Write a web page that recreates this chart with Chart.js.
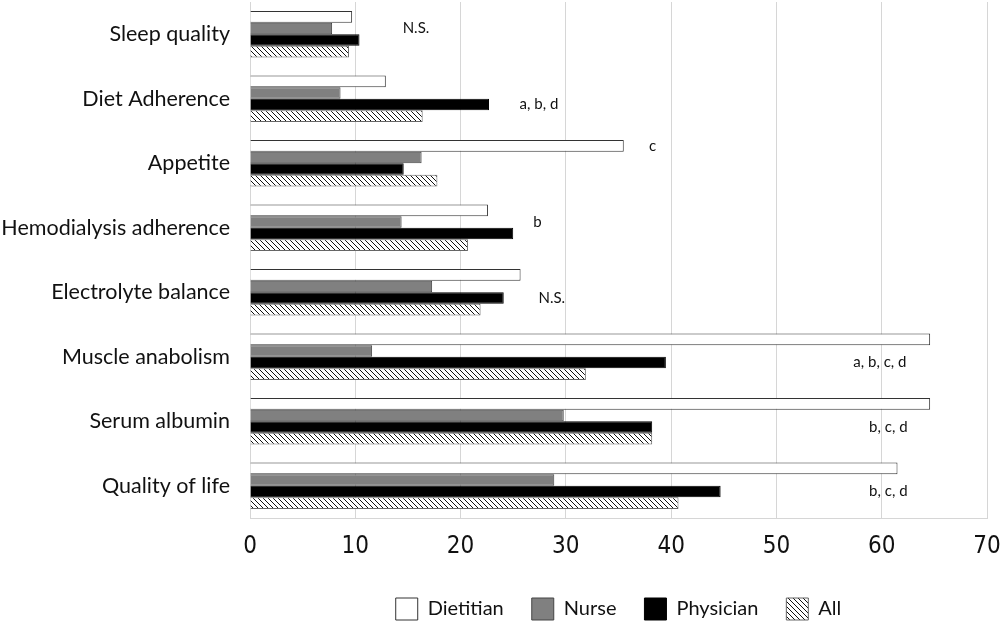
<!DOCTYPE html>
<html>
<head>
<meta charset="utf-8">
<script src="https://cdn.jsdelivr.net/npm/chart.js@4.4.1/dist/chart.umd.min.js"></script>
<style>
  html, body { margin: 0; padding: 0; background: #fff; }
  #wrap { width: 1000px; height: 628px; }
</style>
</head>
<body>
<div id="wrap"><canvas id="myChart" width="1000" height="628"></canvas></div>
<script>
/*
* Data
*/

var categories = ["Sleep quality", "Diet Adherence", "Appetite", "Hemodialysis adherence",
  "Electrolyte balance", "Muscle anabolism", "Serum albumin", "Quality of life"];

var dietitian = [9.7, 12.9, 35.5, 22.6, 25.7, 64.6, 64.6, 61.5];
var nurse     = [7.8,  8.6, 16.3, 14.4, 17.3, 11.6, 29.8, 28.9];
var physician = [10.4, 22.7, 14.6, 25.0, 24.1, 39.5, 38.2, 44.7];
var all       = [9.4, 16.4, 17.8, 20.7, 21.9, 31.9, 38.2, 40.7];

var xTicks = [0, 10, 20, 30, 40, 50, 60, 70];

// significance notes: text, x value where the text starts, bar row it sits beside
var noteText = ["N.S.", "a, b, d", "c", "b", "N.S.", "a, b, c, d", "b, c, d", "b, c, d"];
var noteX    = [14.5, 25.6, 37.9, 26.9, 27.4, 57.3, 58.8, 58.8];
var noteRow  = [1, 2, 0, 1, 2, 2, 2, 2];

/*
* Hatch fill for "All"
*/

var ctx = document.getElementById('myChart').getContext('2d');

function makeHatch() {
  var c = document.createElement('canvas');
  c.width = 5; c.height = 5;
  var g = c.getContext('2d');
  g.fillStyle = '#fff';
  g.fillRect(0, 0, 5, 5);
  g.strokeStyle = '#111';
  g.lineWidth = 1;
  g.beginPath();
  g.moveTo(-1, -1); g.lineTo(6, 6);
  g.moveTo(-1, 4); g.lineTo(1, 6);
  g.moveTo(4, -1); g.lineTo(6, 1);
  g.stroke();
  return ctx.createPattern(c, 'repeat');
}

/*
* Notes plugin
*/

var notesPlugin = {
  id: 'notes',
  afterDatasetsDraw: function(chart) {
    var c = chart.ctx;
    var xs = chart.scales.x;
    c.save();
    c.font = '15px Lato';
    c.fillStyle = '#111';
    c.textAlign = 'left';
    c.textBaseline = 'middle';
    for (var i = 0; i < noteText.length; i++) {
      var bar = chart.getDatasetMeta(noteRow[i]).data[i];
      c.fillText(noteText[i], xs.getPixelForValue(noteX[i]), bar.y);
    }
    c.restore();
  }
};

/*
* Chart
*/

var chart = new Chart(ctx, {
  type: 'bar',
  data: {
    labels: categories,
    datasets: [
      { label: 'Dietitian', data: dietitian, backgroundColor: '#ffffff', borderColor: '#333', borderWidth: 1 },
      { label: 'Nurse', data: nurse, backgroundColor: '#808080', borderColor: '#444', borderWidth: 1 },
      { label: 'Physician', data: physician, backgroundColor: '#000000', borderColor: '#000', borderWidth: 1 },
      { label: 'All', data: all, backgroundColor: makeHatch(), borderColor: '#666', borderWidth: 1 }
    ]
  },
  options: {
    indexAxis: 'y',
    responsive: false,
    animation: false,
    devicePixelRatio: 1,
    categoryPercentage: 0.72,
    barPercentage: 1.0,
    layout: { padding: { top: 2, right: 13, left: 0, bottom: -2 } },
    scales: {
      x: {
        min: 0,
        max: 70,
        afterBuildTicks: function(scale) {
          scale.ticks = xTicks.map(function(v) { return { value: v }; });
        },
        afterFit: function(scale) {
          scale.height = 52;
          scale.paddingLeft = 0;
          scale.paddingRight = 0;
        },
        grid: { color: '#d6d6d6', drawTicks: false },
        border: { color: '#d6d6d6' },
        ticks: {
          padding: 14,
          color: '#111',
          font: { family: "'Liberation Sans Narrow', 'DejaVu Sans Condensed', sans-serif", size: 24 }
        }
      },
      y: {
        afterFit: function(scale) {
          scale.width = 250;
          scale.paddingTop = 0;
          scale.paddingBottom = 0;
        },
        grid: { display: false, drawTicks: false },
        border: { color: '#d6d6d6' },
        ticks: {
          padding: 20,
          color: '#111',
          font: { family: 'Lato', size: 21.5 }
        }
      }
    },
    plugins: {
      tooltip: { enabled: false },
      legend: {
        position: 'bottom',
        fullSize: false,
        labels: {
          boxWidth: 22,
          boxHeight: 22,
          padding: 28,
          color: '#111',
          font: { family: 'Lato', size: 20 }
        }
      }
    }
  },
  plugins: [notesPlugin]
});
</script>
</body>
</html>
